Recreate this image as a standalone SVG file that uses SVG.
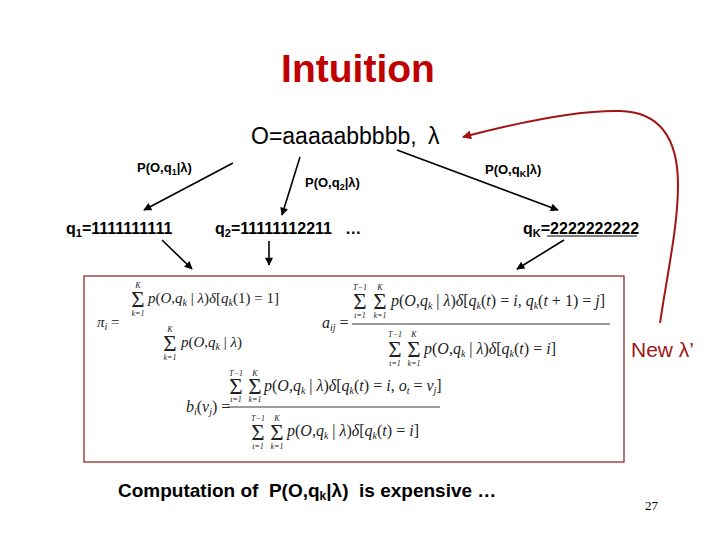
<svg xmlns="http://www.w3.org/2000/svg" width="720" height="540" viewBox="0 0 720 540">
<style>
.sans{font-family:"Liberation Sans",Arial,sans-serif;fill:#000}
.b{font-weight:bold}
.title{font-family:"Liberation Sans",Arial,sans-serif;font-weight:bold;font-size:39px;fill:#C00000}
.plab{font-family:"Liberation Sans",Arial,sans-serif;font-weight:bold;font-size:13px;fill:#000}
.qlab{font-family:"Liberation Sans",Arial,sans-serif;font-weight:bold;font-size:16px;fill:#000}
.m{font-family:"Liberation Serif","Times New Roman",serif;font-size:15px;font-style:italic;fill:#222}
.m16{font-size:16px}
.r{font-style:normal}
.s{font-size:10px}
.sig{font-family:"Liberation Serif","Times New Roman",serif;font-size:23px;fill:#222;text-anchor:middle}
.lim{font-family:"Liberation Serif","Times New Roman",serif;font-size:8px;font-style:italic;fill:#222;text-anchor:middle}
.conn{stroke:#000;stroke-width:1.6;fill:none;marker-end:url(#ah)}
.bar{stroke:#222;stroke-width:0.9}
</style>
<defs>
<marker id="ah" viewBox="0 0 10 10" refX="9" refY="5" markerWidth="10" markerHeight="8" markerUnits="userSpaceOnUse" orient="auto"><path d="M0,0 L10,5 L0,10 z" fill="#000"/></marker>
<marker id="ahr" viewBox="0 0 10 10" refX="9" refY="5" markerWidth="11" markerHeight="9" markerUnits="userSpaceOnUse" orient="auto"><path d="M0,0 L10,5 L0,10 z" fill="#A01515"/></marker>
</defs>
<rect width="720" height="540" fill="#fff"/>

<g id="title"><text class="title" x="358" y="82" text-anchor="middle">Intuition</text></g>

<g id="observation"><text class="sans" x="251" y="144" font-size="23">O=aaaaabbbbb,<tspan x="428">λ</tspan></text></g>

<g id="label-p1"><text class="plab" x="137" y="172">P(O,q<tspan font-size="9" dy="3">1</tspan><tspan dy="-3">|λ)</tspan></text></g>
<g id="label-p2"><text class="plab" x="305" y="187">P(O,q<tspan font-size="9" dy="3">2</tspan><tspan dy="-3">|λ)</tspan></text></g>
<g id="label-pK"><text class="plab" x="485" y="174">P(O,q<tspan font-size="9" dy="3">K</tspan><tspan dy="-3">|λ)</tspan></text></g>

<g id="q1"><text class="qlab" x="66" y="234">q<tspan font-size="11" dy="3">1</tspan><tspan dy="-3">=1111111111</tspan></text></g>
<g id="q2"><text class="qlab" x="215" y="234" xml:space="preserve">q<tspan font-size="11" dy="3">2</tspan><tspan dy="-3">=11111112211   …</tspan></text></g>
<g id="qK"><text class="qlab" x="523" y="234">q<tspan font-size="11" dy="3">K</tspan><tspan dy="-3">=2222222222</tspan></text>
<line x1="547" y1="236" x2="637" y2="236" stroke="#000" stroke-width="1"/></g>

<g id="formulas">
<rect x="84" y="276" width="540" height="186" fill="#fff" stroke="#8B1A1A" stroke-width="1.2"/>
<!-- pi_i -->
<text class="m" x="97" y="327">π<tspan class="s" dy="3">i</tspan><tspan class="r" dy="-3"> =</tspan></text>
<text class="lim" x="138" y="288">K</text><text class="sig" x="138" y="307">Σ</text><text class="lim" x="138" y="316">k=1</text>
<text class="m" x="148" y="303">p<tspan class="r">(</tspan>O<tspan class="r">,</tspan>q<tspan class="s" dy="3">k</tspan><tspan class="r" dy="-3"> | </tspan>λ<tspan class="r">)</tspan>δ<tspan class="r">[</tspan>q<tspan class="s" dy="3">k</tspan><tspan class="r" dy="-3">(1) = 1]</tspan></text>
<text class="lim" x="170" y="332">K</text><text class="sig" x="170" y="351">Σ</text><text class="lim" x="170" y="360">k=1</text>
<text class="m" x="181" y="347">p<tspan class="r">(</tspan>O<tspan class="r">,</tspan>q<tspan class="s" dy="3">k</tspan><tspan class="r" dy="-3"> | </tspan>λ<tspan class="r">)</tspan></text>
<!-- a_ij -->
<text class="m m16" x="322" y="328">a<tspan class="s" dy="3">ij</tspan><tspan class="r" dy="-3"> =</tspan></text>
<text class="lim" x="360" y="290">T−1</text><text class="sig" x="360" y="309">Σ</text><text class="lim" x="360" y="318">t=1</text>
<text class="lim" x="380" y="290">K</text><text class="sig" x="380" y="309">Σ</text><text class="lim" x="380" y="318">k=1</text>
<text class="m m16" x="391" y="306">p<tspan class="r">(</tspan>O<tspan class="r">,</tspan>q<tspan class="s" dy="3">k</tspan><tspan class="r" dy="-3"> | </tspan>λ<tspan class="r">)</tspan>δ<tspan class="r">[</tspan>q<tspan class="s" dy="3">k</tspan><tspan class="r" dy="-3">(</tspan>t<tspan class="r">) = </tspan>i<tspan class="r">, </tspan>q<tspan class="s" dy="3">k</tspan><tspan class="r" dy="-3">(</tspan>t<tspan class="r"> + 1) = </tspan>j<tspan class="r">]</tspan></text>
<line class="bar" x1="352" y1="324" x2="610" y2="324"/>
<text class="lim" x="395" y="337">T−1</text><text class="sig" x="395" y="357">Σ</text><text class="lim" x="395" y="366">t=1</text>
<text class="lim" x="414" y="337">K</text><text class="sig" x="414" y="357">Σ</text><text class="lim" x="414" y="366">k=1</text>
<text class="m m16" x="424" y="354">p<tspan class="r">(</tspan>O<tspan class="r">,</tspan>q<tspan class="s" dy="3">k</tspan><tspan class="r" dy="-3"> | </tspan>λ<tspan class="r">)</tspan>δ<tspan class="r">[</tspan>q<tspan class="s" dy="3">k</tspan><tspan class="r" dy="-3">(</tspan>t<tspan class="r">) = </tspan>i<tspan class="r">]</tspan></text>
<!-- b_i(v_j) -->
<text class="m m16" x="186" y="412">b<tspan class="s" dy="3">i</tspan><tspan class="r" dy="-3">(</tspan>v<tspan class="s" dy="3">j</tspan><tspan class="r" dy="-3">) =</tspan></text>
<text class="lim" x="236" y="376">T−1</text><text class="sig" x="236" y="394">Σ</text><text class="lim" x="236" y="402">t=1</text>
<text class="lim" x="255" y="376">K</text><text class="sig" x="255" y="394">Σ</text><text class="lim" x="255" y="402">k=1</text>
<text class="m m16" x="264" y="391">p<tspan class="r">(</tspan>O<tspan class="r">,</tspan>q<tspan class="s" dy="3">k</tspan><tspan class="r" dy="-3"> | </tspan>λ<tspan class="r">)</tspan>δ<tspan class="r">[</tspan>q<tspan class="s" dy="3">k</tspan><tspan class="r" dy="-3">(</tspan>t<tspan class="r">) = </tspan>i<tspan class="r">, </tspan>o<tspan class="s" dy="3">t</tspan><tspan class="r" dy="-3"> = </tspan>v<tspan class="s" dy="3">j</tspan><tspan class="r" dy="-3">]</tspan></text>
<line class="bar" x1="228" y1="407" x2="440" y2="407"/>
<text class="lim" x="258" y="421">T−1</text><text class="sig" x="258" y="440">Σ</text><text class="lim" x="258" y="449">t=1</text>
<text class="lim" x="277" y="421">K</text><text class="sig" x="277" y="440">Σ</text><text class="lim" x="277" y="449">k=1</text>
<text class="m m16" x="287" y="436">p<tspan class="r">(</tspan>O<tspan class="r">,</tspan>q<tspan class="s" dy="3">k</tspan><tspan class="r" dy="-3"> | </tspan>λ<tspan class="r">)</tspan>δ<tspan class="r">[</tspan>q<tspan class="s" dy="3">k</tspan><tspan class="r" dy="-3">(</tspan>t<tspan class="r">) = </tspan>i<tspan class="r">]</tspan></text>
</g>

<g id="new-lambda"><text x="631" y="357" font-family="Liberation Sans, Arial, sans-serif" font-size="21" fill="#A01515">New λ’</text></g>

<g id="footer">
<text class="sans b" x="118" y="497" font-size="19" xml:space="preserve">Computation of  P(O,q<tspan font-size="12" dy="3">k</tspan><tspan dy="-3">|λ)  is expensive …</tspan></text>
<text x="645" y="510" font-family="Liberation Serif, serif" font-size="13" fill="#000">27</text>
</g>

<g id="connectors">
<line class="conn" x1="233" y1="163" x2="144" y2="210"/>
<line class="conn" x1="300" y1="157" x2="282" y2="215"/>
<line class="conn" x1="397" y1="150" x2="558" y2="210"/>
<line class="conn" x1="162" y1="240" x2="192" y2="269"/>
<line class="conn" x1="269" y1="241" x2="269" y2="265"/>
<line class="conn" x1="564" y1="240" x2="517" y2="269"/>
<path d="M660,323 C668,270 678,225 678,185 C678,138 660,112 620,111 C580,110 520,122 463,137" fill="none" stroke="#A01515" stroke-width="2" marker-end="url(#ahr)"/>
</g>
</svg>
